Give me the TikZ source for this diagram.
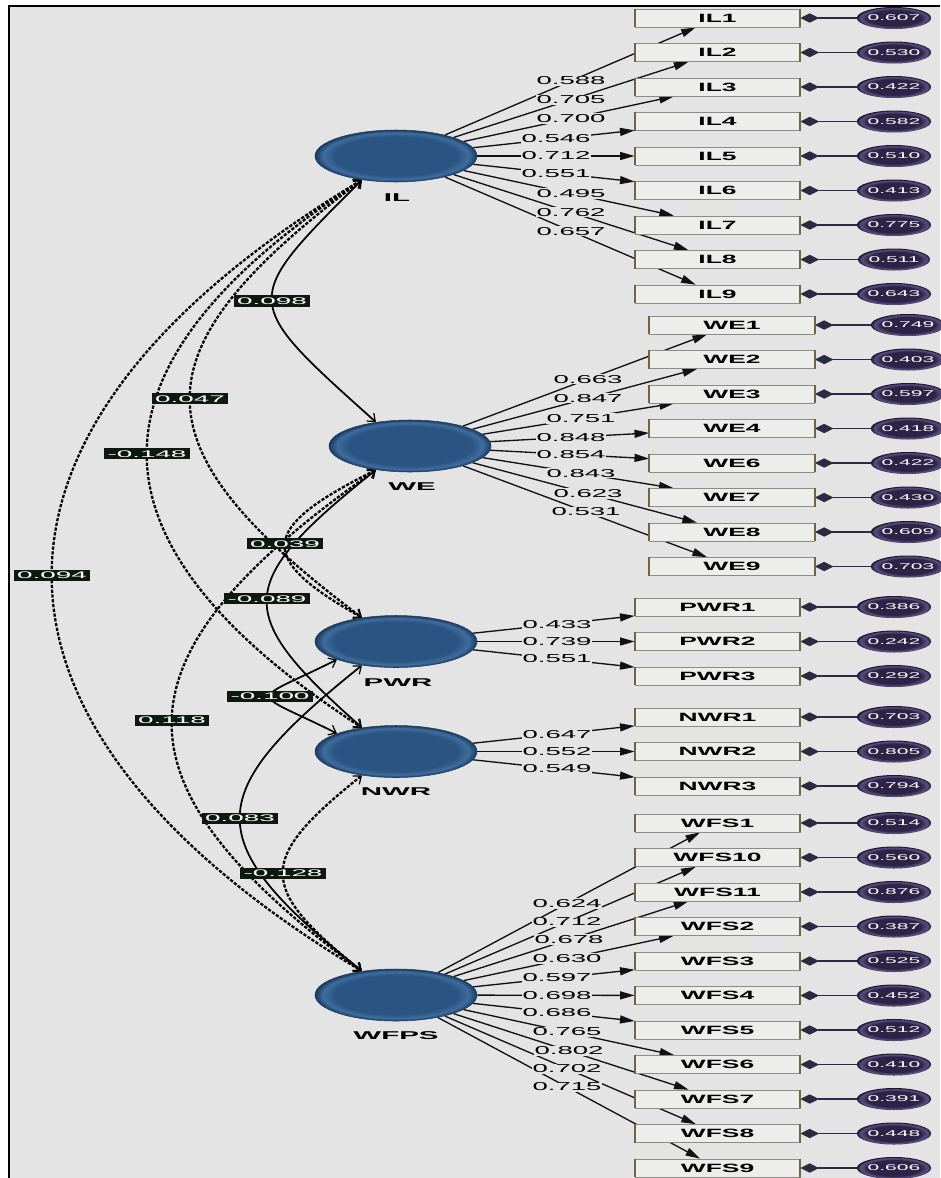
\documentclass[tikz,border=0pt]{standalone}
\usepackage{fontspec}
\setmainfont{Liberation Sans}
\usepackage{graphicx}
\usetikzlibrary{shapes.geometric,arrows.meta,calc}
\definecolor{bgc}{HTML}{E3E4E3}
\definecolor{latc}{HTML}{2A5583}
\definecolor{latr}{HTML}{3F6D9E}
\definecolor{late}{HTML}{1B3A5F}
\definecolor{errc}{HTML}{2C2346}
\definecolor{errr}{HTML}{5A5080}
\definecolor{erre}{HTML}{1A1430}
\definecolor{boxfill}{HTML}{EDEDEB}
\definecolor{boxline}{HTML}{8C8C84}
\definecolor{oedge}{HTML}{6B6840}
\definecolor{covfill}{HTML}{0D190E}
\definecolor{errline}{HTML}{2A2A40}
\definecolor{ldline}{HTML}{111111}
\pgfdeclareradialshading{latshade}{\pgfpoint{0bp}{0bp}}{color(0bp)=(latc); color(19bp)=(latc); color(22.5bp)=(latr); color(25bp)=(late); color(50bp)=(late)}
\pgfdeclareradialshading{errshade}{\pgfpoint{0bp}{0bp}}{color(0bp)=(errc); color(18bp)=(errc); color(22.5bp)=(errr); color(25bp)=(erre); color(50bp)=(erre)}
\pgfdeclarelayer{back}
\pgfdeclarelayer{lines}
\pgfsetlayers{back,lines,main}
\newcommand\hsx[2]{\scalebox{#1}[1]{#2}}
\tikzset{
  latent/.style={ellipse, minimum width=121.5pt, minimum height=39pt, inner sep=0pt, shading=latshade, draw=late, line width=0.4pt},
  latlab/.style={font=\fontsize{8.5pt}{10pt}\selectfont\bfseries, inner sep=0pt},
  mbox/.style={rectangle, minimum width=123.75pt, minimum height=13.5pt, inner sep=0pt, fill=boxfill, draw=boxline, line width=0.5pt, font=\fontsize{9pt}{10pt}\selectfont\bfseries},
  errnode/.style={ellipse, minimum width=49.5pt, minimum height=16.5pt, inner sep=0pt, shading=errshade, text=white, font=\fontsize{6.3pt}{7pt}\selectfont},
  loadline/.style={draw=ldline, line width=1pt, -{Triangle[length=11pt,width=6pt]}},
  loadlab/.style={fill=bgc, inner xsep=0.6pt, inner ysep=0.8pt, font=\fontsize{8.6pt}{9pt}\selectfont},
  errl/.style={draw=errline, line width=0.8pt, -{Kite[length=14pt,width=7pt,inset=7pt]}},
  oedgeline/.style={draw=oedge, line width=1.4pt},
  cov/.style={line width=1.3pt, arrows={Straight Barb[length=5pt,width=8pt,line width=0.9pt]-Straight Barb[length=5pt,width=8pt,line width=0.9pt]}},
  covd/.style={line width=1.7pt, dash pattern=on 2.4pt off 1.2pt},
  covlab/.style={fill=covfill, text=white, inner xsep=2.4pt, inner ysep=1.7pt, font=\fontsize{7.2pt}{8pt}\selectfont}
}
\newcommand\ldg[4]{%
  \begin{pgfonlayer}{lines}\draw[loadline] (#1) -- (#2);\end{pgfonlayer}
  \path let \p1=(#1.center), \p2=(#2.center), \n1={scalar((#3*0.75pt-\x1)/(\x2-\x1))} in
    node[loadlab] (lab#2) at ($(\p1)!\n1!(\p2)$) {\hsx{2.4}{#4}};
}
\newcommand\cvr[7]{%
  \begin{pgfonlayer}{lines}
  \draw[cov,#6] let \p1=(#1), \p2=(#2), \n1={(8*#3*0.75pt-\x1-\x2)/6}, \n2={#4*(\x1-\n1)} in
    (\p1) .. controls (\n1,\y1-\n2) and (\n1,\y2+\n2) .. (\p2) coordinate[pos=0.5] (#5);
  \end{pgfonlayer}
  \node[covlab] (#5lab) at (#5) {\hsx{2.9}{#7}};
}
\begin{document}
\begin{tikzpicture}[x=0.75pt,y=-0.75pt]
\useasboundingbox (0,0) rectangle (940,1178);
\begin{pgfonlayer}{back}
\fill[white] (0,0) rectangle (940,1178);
\fill[bgc] (9,6) rectangle (940,1178);
\draw[line width=1.8pt] (9,1178) -- (9,6) -- (940,6);
\end{pgfonlayer}

% latent variables
\node[latent] (IL) at (396,156) {};
\node[latent] (WE) at (410,446) {};
\node[latent] (PWR) at (396,641.5) {};
\node[latent] (NWR) at (396,751.5) {};
\node[latent] (WFPS) at (396,995) {};
\node[latlab] (tIL) at (397,198) {\hsx{2.6}{IL}};
\node[latlab] (tWE) at (412,487) {\hsx{2.6}{WE}};
\node[latlab] (tPWR) at (398,683) {\hsx{2.6}{PWR}};
\node[latlab] (tNWR) at (396,792) {\hsx{2.6}{NWR}};
\node[latlab] (tWFPS) at (396,1036) {\hsx{2.6}{WFPS}};

% indicators and errors
\foreach \bx/\yy/\ev in {IL1/18/0.607, IL2/52.5/0.530, IL3/87/0.422, IL4/121.5/0.582, IL5/156/0.510, IL6/190.5/0.413, IL7/225/0.775, IL8/259.5/0.511, IL9/294/0.643,
  PWR1/607/0.386, PWR2/641.5/0.242, PWR3/676/0.292, NWR1/717/0.703, NWR2/751.5/0.805, NWR3/786/0.794,
  WFS1/823/0.514, WFS10/857.5/0.560, WFS11/892/0.876, WFS2/926.5/0.387, WFS3/961/0.525, WFS4/995.5/0.452, WFS5/1030/0.512, WFS6/1064.5/0.410, WFS7/1099/0.391, WFS8/1133.5/0.448, WFS9/1168/0.606}{
  \node[mbox] (\bx) at (717.5,\yy) {\hsx{2.2}{\bx}};
  \node[errnode] (e\bx) at (894,\yy) {\hsx{2.5}{\ev}};
  \draw[errl] (e\bx) -- (\bx);
  \draw[oedgeline] (\bx.north west) -- (\bx.south west) (\bx.north east) -- (\bx.south east);
}
\foreach \bx/\yy/\ev in {WE1/325/0.749, WE2/359.5/0.403, WE3/394/0.597, WE4/428.5/0.418, WE6/463/0.422, WE7/497.5/0.430, WE8/532/0.609, WE9/566.5/0.703}{
  \node[mbox] (\bx) at (732,\yy) {\hsx{2.2}{\bx}};
  \node[errnode] (e\bx) at (908,\yy) {\hsx{2.5}{\ev}};
  \draw[errl] (e\bx) -- (\bx);
  \draw[oedgeline] (\bx.north west) -- (\bx.south west) (\bx.north east) -- (\bx.south east);
}

% loadings
\foreach \bx/\vv/\lx in {IL1/0.588/571, IL2/0.705/571, IL3/0.700/571, IL4/0.546/556, IL5/0.712/556, IL6/0.551/556, IL7/0.495/571, IL8/0.762/571, IL9/0.657/571}{\ldg{IL}{\bx}{\lx}{\vv}}
\foreach \bx/\vv/\lx in {WE1/0.663/588, WE2/0.847/588, WE3/0.751/581, WE4/0.848/571, WE6/0.854/571, WE7/0.843/581, WE8/0.623/588, WE9/0.531/586}{\ldg{WE}{\bx}{\lx}{\vv}}
\foreach \bx/\vv/\lx in {PWR1/0.433/557, PWR2/0.739/557, PWR3/0.551/557}{\ldg{PWR}{\bx}{\lx}{\vv}}
\foreach \bx/\vv/\lx in {NWR1/0.647/557, NWR2/0.552/557, NWR3/0.549/557}{\ldg{NWR}{\bx}{\lx}{\vv}}
\foreach \bx/\vv/\lx in {WFS1/0.624/567, WFS10/0.712/567, WFS11/0.678/569, WFS2/0.630/567, WFS3/0.597/557, WFS4/0.698/557, WFS5/0.686/557, WFS6/0.765/567, WFS7/0.802/569, WFS8/0.702/567, WFS9/0.715/567}{\ldg{WFPS}{\bx}{\lx}{\vv}}

% covariances
\cvr{IL.215}{WE.145}{272}{1.0}{c1}{}{0.098}
\cvr{IL.215}{PWR.145}{190}{0.75}{c2}{covd}{0.047}
\cvr{IL.215}{NWR.145}{147}{0.65}{c3}{covd}{-0.148}
\cvr{IL.215}{WFPS.145}{52}{0.6}{c4}{covd}{0.094}
\cvr{WE.215}{PWR.145}{285}{0.5}{c5}{covd}{0.039}
\cvr{WE.215}{NWR.145}{267}{0.8}{c6}{}{-0.089}
\cvr{WE.215}{WFPS.145}{172}{0.7}{c7}{covd}{0.118}
\cvr{PWR.197}{NWR.163}{270}{0.5}{c8}{}{-0.100}
\cvr{PWR.215}{WFPS.145}{240}{0.8}{c9}{}{0.083}
\cvr{NWR.215}{WFPS.145}{283}{0.8}{c10}{covd}{-0.128}
\end{tikzpicture}
\end{document}
